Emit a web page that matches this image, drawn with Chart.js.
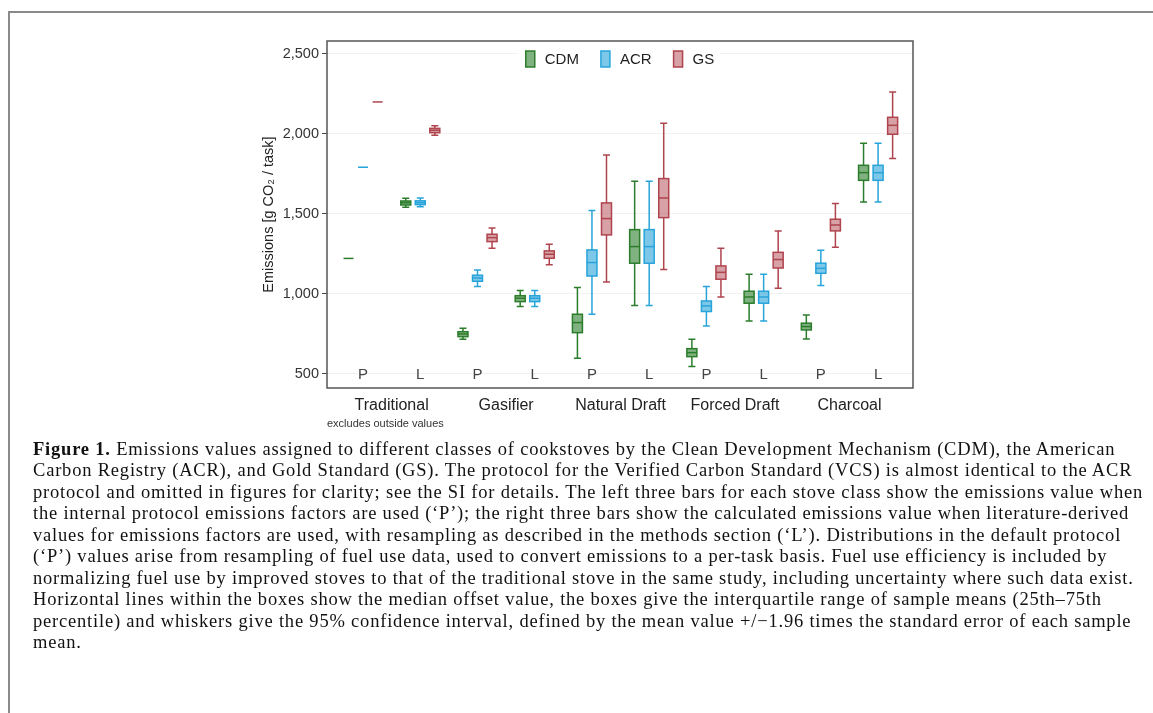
<!DOCTYPE html>
<html>
<head>
<meta charset="utf-8">
<script src="https://cdn.jsdelivr.net/npm/chart.js@4.4.1/dist/chart.umd.min.js"></script>
<style>
  html, body { margin: 0; padding: 0; background: #fff; }
  body { width: 1153px; height: 713px; position: relative; overflow: hidden; }
  #frame { position: absolute; left: 8px; top: 11px; width: 1160px; height: 720px;
           border-top: 2px solid #8a8a8a; border-left: 2px solid #8a8a8a; }
  #wrap { position: absolute; left: 0; top: 0; width: 1153px; height: 440px; }
  #caption { position: absolute; left: 33px; top: 439px; font-family: "Liberation Serif", serif;
             font-size: 18.5px; line-height: 21.45px; color: #111; letter-spacing: 0.8px; }
  #caption div { white-space: nowrap; }
</style>
</head>
<body>
<div id="frame"></div>
<div id="wrap"><canvas id="chart" width="1153" height="440"></canvas></div>
<div id="caption">
  <div><b>Figure 1.</b> Emissions values assigned to different classes of cookstoves by the Clean Development Mechanism (CDM), the American</div>
  <div>Carbon Registry (ACR), and Gold Standard (GS). The protocol for the Verified Carbon Standard (VCS) is almost identical to the ACR</div>
  <div>protocol and omitted in figures for clarity; see the SI for details. The left three bars for each stove class show the emissions value when</div>
  <div>the internal protocol emissions factors are used (‘P’); the right three bars show the calculated emissions value when literature-derived</div>
  <div>values for emissions factors are used, with resampling as described in the methods section (‘L’). Distributions in the default protocol</div>
  <div>(‘P’) values arise from resampling of fuel use data, used to convert emissions to a per-task basis. Fuel use efficiency is included by</div>
  <div>normalizing fuel use by improved stoves to that of the traditional stove in the same study, including uncertainty where such data exist.</div>
  <div>Horizontal lines within the boxes show the median offset value, the boxes give the interquartile range of sample means (25th–75th</div>
  <div>percentile) and whiskers give the 95% confidence interval, defined by the mean value +/−1.96 times the standard error of each sample</div>
  <div>mean.</div>
</div>
<script>
// stove classes, each with a P (protocol) and L (literature) slot
var stoveClasses = ['Traditional', 'Gasifier', 'Natural Draft', 'Forced Draft', 'Charcoal'];
var methods = ['P', 'L'];
var yTicks = [500, 1000, 1500, 2000, 2500];

// slot order: Trad P, Trad L, Gas P, Gas L, ND P, ND L, FD P, FD L, Char P, Char L
var cdmLow    = [1222, 1542,  717,  921,  598,  927,  546,  831,  719, 1575];
var cdmQ1     = [1222, 1556,  733,  952,  758, 1192,  608,  942,  775, 1710];
var cdmMedian = [1222, 1570,  750,  973,  821, 1296,  633,  981,  796, 1758];
var cdmQ3     = [1222, 1581,  764,  989,  873, 1402,  658, 1017,  817, 1804];
var cdmHigh   = [1222, 1598,  785, 1021, 1040, 1704,  717, 1123,  869, 1942];

var acrLow    = [1792, 1545, 1046,  921,  873,  927,  800,  831, 1052, 1575];
var acrQ1     = [1792, 1558, 1079,  952, 1112, 1192,  890,  942, 1129, 1710];
var acrMedian = [1792, 1570, 1100,  973, 1196, 1296,  925,  981, 1160, 1758];
var acrQ3     = [1792, 1582, 1117,  989, 1275, 1402,  956, 1017, 1192, 1804];
var acrHigh   = [1792, 1600, 1150, 1021, 1521, 1704, 1046, 1123, 1273, 1942];

var gsLow     = [2200, 1992, 1285, 1183, 1075, 1152,  981, 1035, 1292, 1846];
var gsQ1      = [2200, 2008, 1327, 1223, 1369, 1477, 1092, 1162, 1394, 1998];
var gsMedian  = [2200, 2023, 1352, 1248, 1471, 1600, 1135, 1215, 1431, 2054];
var gsQ3      = [2200, 2035, 1373, 1269, 1569, 1721, 1175, 1260, 1467, 2104];
var gsHigh    = [2200, 2052, 1412, 1310, 1869, 2067, 1285, 1394, 1565, 2262];

var seriesOffset = [-0.254, 0, 0.254];

function makePoints(k, lo, q1, med, q3, hi) {
  return med.map(function(m, i) {
    return { x: i + seriesOffset[k], y: m, lo: lo[i], q1: q1[i], q3: q3[i], hi: hi[i] };
  });
}

var boxPlot = {
  id: 'boxPlot',
  beforeDatasetsDraw: function(chart) {
    var ctx = chart.ctx, a = chart.chartArea;
    // legend inside the plot, on a white patch
    ctx.save();
    ctx.font = '15px "Liberation Sans", Arial, sans-serif';
    var items = chart.data.datasets.map(function(ds) {
      return { ds: ds, w: ctx.measureText(ds.label).width };
    });
    var total = 0;
    items.forEach(function(it, i) { total += 9 + 10 + it.w + (i ? 22 : 0); });
    var x = (a.left + a.right) / 2 - total / 2, cy = 59;
    ctx.fillStyle = '#fff';
    ctx.fillRect(x - 8, cy - 12, total + 14, 24);
    items.forEach(function(it) {
      ctx.fillStyle = it.ds.backgroundColor;
      ctx.fillRect(x, cy - 8, 9, 16);
      ctx.strokeStyle = it.ds.borderColor;
      ctx.lineWidth = 1.5;
      ctx.strokeRect(x, cy - 8, 9, 16);
      ctx.fillStyle = '#222';
      ctx.textBaseline = 'middle';
      ctx.textAlign = 'left';
      ctx.fillText(it.ds.label, x + 19, cy + 1);
      x += 19 + it.w + 22;
    });
    ctx.restore();
  },
  afterDatasetsDraw: function(chart) {
    var ctx = chart.ctx, xs = chart.scales.x, ys = chart.scales.y, a = chart.chartArea;
    ctx.save();
    chart.data.datasets.forEach(function(ds) {
      ctx.strokeStyle = ds.borderColor;
      ctx.lineWidth = 1.5;
      ds.data.forEach(function(p) {
        var cx = xs.getPixelForValue(p.x);
        var yLo = ys.getPixelForValue(p.lo), yHi = ys.getPixelForValue(p.hi);
        var yQ1 = ys.getPixelForValue(p.q1), yQ3 = ys.getPixelForValue(p.q3);
        var yMed = ys.getPixelForValue(p.y);
        var hw = 5, cw = 3.5;
        if (p.lo !== p.hi) {
          ctx.beginPath();
          ctx.moveTo(cx, yHi); ctx.lineTo(cx, yQ3);
          ctx.moveTo(cx, yQ1); ctx.lineTo(cx, yLo);
          ctx.moveTo(cx - cw, yHi); ctx.lineTo(cx + cw, yHi);
          ctx.moveTo(cx - cw, yLo); ctx.lineTo(cx + cw, yLo);
          ctx.stroke();
        }
        if (p.q1 !== p.q3) {
          ctx.fillStyle = ds.backgroundColor;
          ctx.fillRect(cx - hw, yQ3, hw * 2, yQ1 - yQ3);
          ctx.strokeRect(cx - hw, yQ3, hw * 2, yQ1 - yQ3);
        }
        ctx.beginPath();
        ctx.moveTo(cx - hw, yMed); ctx.lineTo(cx + hw, yMed);
        ctx.stroke();
      });
    });
    // P / L labels along the bottom of the plot
    ctx.font = '15px "Liberation Sans", Arial, sans-serif';
    ctx.fillStyle = '#444';
    ctx.textAlign = 'center';
    ctx.textBaseline = 'middle';
    stoveClasses.forEach(function(c, g) {
      methods.forEach(function(m, j) {
        ctx.fillText(m, xs.getPixelForValue(g * 2 + j), ys.getPixelForValue(yTicks[0]) + 1);
      });
    });
    // frame
    ctx.strokeStyle = '#555';
    ctx.lineWidth = 1.5;
    ctx.strokeRect(a.left, a.top, a.right - a.left, a.bottom - a.top);
    ctx.restore();
  }
};

var options = {
  type: 'scatter',
  data: {
    datasets: [
      { label: 'CDM', data: makePoints(0, cdmLow, cdmQ1, cdmMedian, cdmQ3, cdmHigh),
        borderColor: '#2b7d2b', backgroundColor: 'rgba(43,125,43,0.6)', pointRadius: 0 },
      { label: 'ACR', data: makePoints(1, acrLow, acrQ1, acrMedian, acrQ3, acrHigh),
        borderColor: '#27a4da', backgroundColor: 'rgba(39,164,218,0.6)', pointRadius: 0 },
      { label: 'GS', data: makePoints(2, gsLow, gsQ1, gsMedian, gsQ3, gsHigh),
        borderColor: '#b0444e', backgroundColor: 'rgba(176,68,78,0.5)', pointRadius: 0 }
    ]
  },
  options: {
    responsive: false,
    animation: false,
    layout: { padding: { left: 260, right: 240, top: 41, bottom: 9 } },
    plugins: { legend: { display: false }, tooltip: { enabled: false } },
    scales: {
      x: {
        type: 'linear',
        min: -0.63,
        max: 9.61,
        grid: { display: false, drawTicks: false },
        border: { display: false },
        afterBuildTicks: function(scale) {
          scale.ticks = stoveClasses.map(function(c, g) { return { value: g * 2 + 0.5 }; });
        },
        afterFit: function(scale) { scale.height = 43; },
        ticks: {
          autoSkip: false,
          maxRotation: 0,
          padding: 8,
          color: '#222',
          font: { family: '"Liberation Sans", Arial, sans-serif', size: 16 },
          callback: function(v, i) { return stoveClasses[i]; }
        },
        title: {
          display: true,
          text: 'excludes outside values',
          align: 'start',
          color: '#333',
          padding: 0,
          font: { family: '"Liberation Sans", Arial, sans-serif', size: 11 }
        }
      },
      y: {
        min: 412,
        max: 2581,
        afterBuildTicks: function(scale) {
          scale.ticks = yTicks.map(function(v) { return { value: v }; });
        },
        afterFit: function(scale) { scale.width = 67; },
        grid: { color: '#f1f1f1', tickColor: '#444', tickLength: 5 },
        border: { display: false },
        ticks: {
          padding: 3,
          color: '#333',
          font: { family: '"Liberation Sans", Arial, sans-serif', size: 14.5 },
          callback: function(v) { return v.toLocaleString('en-US'); }
        },
        title: {
          display: true,
          text: 'Emissions [g CO₂ / task]',
          color: '#222',
          padding: 0,
          font: { family: '"Liberation Sans", Arial, sans-serif', size: 14.5 }
        }
      }
    }
  },
  plugins: [boxPlot]
};

var chart = new Chart(document.getElementById('chart'), options);
</script>
</body>
</html>
